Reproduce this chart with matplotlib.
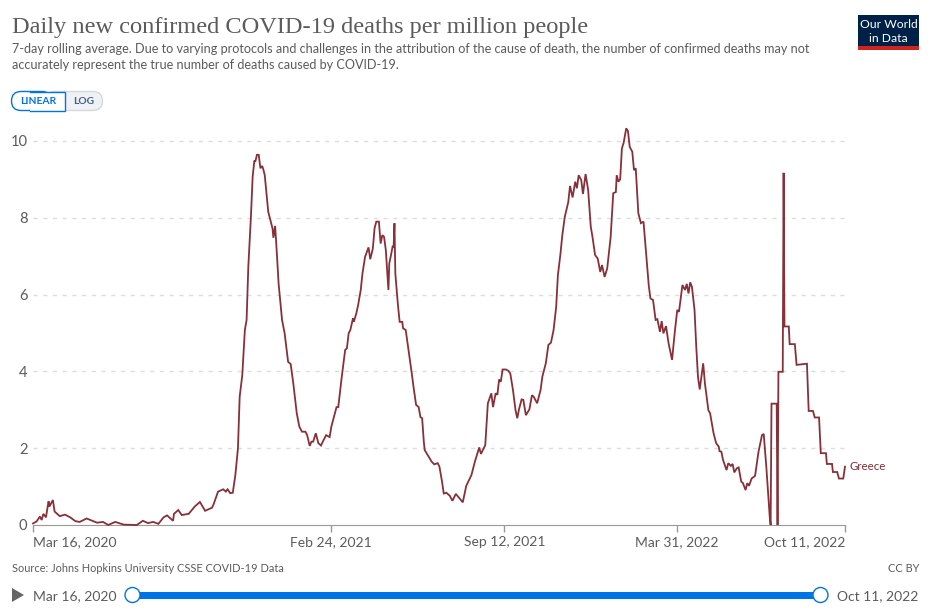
import matplotlib
matplotlib.use("Agg")
import pandas as pd
import matplotlib.pyplot as plt
from matplotlib.patches import Rectangle, FancyBboxPatch, Circle, Polygon

START_DATE = "2020-03-16"
END_DATE = "2022-10-11"
TICK_DATES = ["2020-03-16", "2021-02-24", "2021-09-12", "2022-03-31", "2022-10-11"]
TICK_LABELS = ["Mar 16, 2020", "Feb 24, 2021", "Sep 12, 2021", "Mar 31, 2022", "Oct 11, 2022"]
Y_TICKS = [0, 2, 4, 6, 8, 10]

# Greece: days since the start date and deaths per million
days_first_wave = [0, 4, 8, 10, 12, 15, 18, 19, 23, 25, 31, 37, 43, 49, 54, 62, 74, 81, 87, 95,
                   105, 120, 127, 133, 139, 145, 151, 155, 162, 163, 168, 172, 180, 187, 193,
                   199, 207, 209, 214, 220, 223, 225, 228, 231, 234, 237, 239, 242, 245, 247,
                   249, 252, 254, 256, 257, 259, 261, 263, 265, 266, 268, 272, 275, 277, 278,
                   280, 282, 284, 288, 291, 295, 298, 301, 305, 308, 311, 315, 317, 320, 322,
                   324, 327, 330, 333, 336, 339, 343, 345, 348, 351, 353, 357, 361, 363, 365,
                   367, 370, 371, 374, 376, 379, 381, 384, 388, 390, 393, 395, 397, 400, 402,
                   404, 406, 408, 411, 412, 414, 416, 417, 418, 419, 422, 424, 427, 428, 431,
                   434, 438, 440, 443, 446, 448, 450]
vals_first_wave = [0.04, 0.09, 0.22, 0.13, 0.29, 0.2, 0.62, 0.48, 0.65, 0.35, 0.23, 0.27, 0.2, 0.1,
                   0.08, 0.17, 0.06, 0.08, 0.0, 0.08, 0.01, 0.0, 0.11, 0.05, 0.08, 0.03, 0.2, 0.25,
                   0.11, 0.29, 0.39, 0.26, 0.29, 0.48, 0.6, 0.37, 0.45, 0.55, 0.87, 0.93, 0.87,
                   0.93, 0.83, 0.84, 1.3, 2.0, 3.34, 3.9, 5.08, 5.34, 6.73, 8.03, 9.07, 9.49, 9.46,
                   9.64, 9.64, 9.29, 9.35, 9.29, 9.11, 8.16, 7.9, 7.72, 7.48, 7.79, 7.07, 6.29,
                   5.34, 4.99, 4.25, 4.19, 3.69, 2.91, 2.56, 2.43, 2.43, 2.34, 2.06, 2.17, 2.17,
                   2.39, 2.13, 2.07, 2.21, 2.34, 2.29, 2.56, 2.82, 3.07, 3.07, 3.85, 4.56, 4.6,
                   4.99, 5.08, 5.38, 5.29, 5.52, 5.73, 6.12, 6.55, 6.98, 7.23, 6.92, 7.2, 7.73,
                   7.9, 7.9, 7.33, 7.55, 7.5, 7.16, 6.12, 6.81, 7.03, 7.27, 7.23, 7.86, 6.55, 5.73,
                   5.29, 5.29, 5.12, 5.08, 4.6, 3.95, 3.6, 3.13, 3.07, 2.81, 2.78]

days_second_wave = [452, 453, 457, 461, 464, 468, 470, 473, 475, 478, 482, 485, 489, 493, 497, 501,
                    507, 511, 516, 518, 523, 526, 528, 530, 532, 535, 537, 539, 541, 543, 547,
                    550, 552, 555, 558, 560, 562, 565, 567, 570, 574, 577, 579, 583, 587, 589,
                    593, 596, 599, 602, 605, 607, 610, 612, 615, 619, 621, 624, 627, 629, 631,
                    634, 636, 639, 642, 645, 647, 650, 653, 656, 658, 661, 664, 668, 671, 674,
                    675, 677, 679, 681, 683, 686, 688, 690, 693, 695, 697, 700, 703, 706, 710,
                    712, 714, 717, 720, 722, 725, 727, 729, 732, 735, 739, 742, 745, 747, 751,
                    754, 756, 758, 760, 762, 765, 767, 769, 771, 775, 777, 781, 783, 787, 790,
                    793, 794]
vals_second_wave = [2.15, 1.95, 1.8, 1.65, 1.58, 1.61, 1.52, 1.13, 0.82, 0.84, 0.76, 0.63, 0.81, 0.7,
                    0.59, 1.02, 1.3, 1.65, 2.02, 1.85, 2.08, 3.17, 3.3, 3.43, 3.07, 3.43, 3.39,
                    3.79, 3.73, 4.05, 4.05, 4.01, 3.94, 3.52, 2.99, 2.78, 3.01, 3.27, 3.26, 2.86,
                    3.01, 3.38, 3.34, 3.17, 3.52, 3.86, 4.21, 4.69, 4.75, 5.08, 5.68, 6.51, 7.07,
                    7.53, 8.03, 8.41, 8.83, 8.53, 8.94, 8.77, 9.11, 8.98, 8.62, 9.14, 8.72, 7.77,
                    7.5, 7.03, 6.94, 6.59, 6.77, 6.46, 6.68, 7.5, 8.64, 8.67, 9.11, 8.94, 9.0, 9.81,
                    9.95, 10.33, 10.26, 9.85, 9.72, 9.24, 9.29, 8.12, 7.86, 7.9, 6.81, 6.25, 5.9,
                    5.86, 5.34, 5.36, 5.03, 5.31, 4.99, 5.18, 4.73, 4.3, 4.99, 5.6, 5.55, 6.25,
                    6.12, 6.28, 6.03, 6.32, 6.2, 5.6, 4.64, 3.85, 3.53, 4.21, 3.69, 2.99, 2.91,
                    2.39, 2.13, 2.04, 1.92]

days_last_year = [796, 798, 802, 804, 807, 809, 811, 814, 816, 819, 821, 824, 826, 828, 831, 835,
                  839, 843, 845, 848, 852, 853, 854, 860, 861, 862, 867, 868, 869, 874, 875, 881,
                  883, 895, 897, 902, 904, 909, 911, 917, 918, 924, 925, 930, 932, 937, 939]
vals_last_year = [1.91, 1.69, 1.43, 1.61, 1.54, 1.59, 1.37, 1.48, 1.5, 1.13, 1.09, 0.91, 1.09, 1.02,
                  1.21, 1.28, 1.91, 2.34, 2.37, 1.52, 0.2, 0.0, 3.16, 3.16, 0.0, 3.99, 3.99, 9.17,
                  5.17, 5.17, 4.71, 4.71, 4.17, 4.2, 2.97, 2.97, 2.8, 2.8, 1.87, 1.87, 1.59, 1.59,
                  1.38, 1.38, 1.21, 1.21, 1.52]

TEXT_GREY = "#5b5b5b"
LINE_COLOR = "#883039"
BLUE = "#0073e6"

W, H = 930, 611
plt.rcParams["font.family"] = ["Lato", "DejaVu Sans"]

days = days_first_wave + days_second_wave + days_last_year
vals = vals_first_wave + vals_second_wave + vals_last_year
dates = pd.Timestamp(START_DATE) + pd.to_timedelta(days, unit="D")

fig = plt.figure(figsize=(W / 100, H / 100), dpi=100, facecolor="white")

# Main chart, placed in pixels
ax = fig.add_axes([33 / W, 1 - 525 / H, 812 / W, 398 / H])
ax.plot(dates, vals, color=LINE_COLOR, lw=1.3, solid_joinstyle="miter", clip_on=False, zorder=3)
ax.set_xlim(pd.Timestamp(START_DATE), pd.Timestamp(END_DATE))
ax.set_ylim(0, 398 / 38.4)

ax.set_yticks(Y_TICKS)
ax.set_yticklabels([str(t) for t in Y_TICKS], fontsize=10.6, color=TEXT_GREY)
ax.tick_params(axis="y", length=0, pad=4)
for t in Y_TICKS[1:]:
    ax.axhline(t, color="#dddddd", lw=1, dashes=(3, 4), zorder=1)

ax.set_xticks(pd.to_datetime(TICK_DATES))
ax.set_xticklabels(TICK_LABELS, fontsize=10, color=TEXT_GREY)
ax.tick_params(axis="x", length=5, width=1, color="#999999", pad=3)
labels = ax.get_xticklabels()
labels[0].set_ha("left")
labels[-1].set_ha("right")

for side in ["top", "left", "right"]:
    ax.spines[side].set_visible(False)
ax.spines["bottom"].set_color("#999999")
ax.patch.set_alpha(0)

ax.annotate("Greece", xy=(1, 1.52), xycoords=("axes fraction", "data"), xytext=(4, 0),
            textcoords="offset pixels", color="#7f2b36", fontsize=8.3, va="center", ha="left")

# Everything around the chart, in pixel coordinates
ov = fig.add_axes([0, 0, 1, 1], zorder=-1)
ov.set_xlim(0, W)
ov.set_ylim(H, 0)
ov.axis("off")

ov.text(12, 27, "Daily new confirmed COVID-19 deaths per million people", family="Liberation Serif",
        fontsize=17.6, color=TEXT_GREY, va="center", ha="left")
ov.text(12, 49, "7-day rolling average. Due to varying protocols and challenges in the attribution of the cause of death, the number of confirmed deaths may not",
        fontsize=9.06, color=TEXT_GREY, va="center", ha="left")
ov.text(12, 65, "accurately represent the true number of deaths caused by COVID-19.",
        fontsize=9.06, color=TEXT_GREY, va="center", ha="left")

# Logo
ov.add_patch(Rectangle((858, 15), 61, 35, fc="#002147", ec="none"))
ov.add_patch(Rectangle((858, 46), 61, 4, fc="#ce261e", ec="none"))
ov.text(888.5, 25, "Our World", color="white", fontsize=8.7, ha="center", va="center")
ov.text(888.5, 38, "in Data", color="white", fontsize=8.7, ha="center", va="center")

# Linear / log toggle
ov.add_patch(FancyBboxPatch((45, 91.5), 57.5, 19, boxstyle="round,pad=0,rounding_size=9.5",
                            fc="#eff1f4", ec="#d5d8dd", lw=1))
ov.add_patch(FancyBboxPatch((11.5, 91.5), 40, 19, boxstyle="round,pad=0,rounding_size=9.5",
                            fc="white", ec=BLUE, lw=1))
ov.add_patch(Rectangle((30, 91.5), 34.5, 19, fc="white", ec="none"))
ov.plot([30, 64.5, 64.5, 30], [91.5, 91.5, 110.5, 110.5], color=BLUE, lw=1, solid_joinstyle="miter")
ov.text(38, 101.5, "LINEAR", color=BLUE, fontsize=7.4, fontweight="bold", ha="center", va="center")
ov.text(83.5, 101.5, "LOG", color="#44608a", fontsize=7.4, fontweight="bold", ha="center", va="center")

# Footer
ov.text(12, 568, "Source: Johns Hopkins University CSSE COVID-19 Data", fontsize=7.9, color=TEXT_GREY,
        va="center", ha="left")
ov.text(919, 568, "CC BY", fontsize=7.9, color=TEXT_GREY, va="center", ha="right")

# Timeline
ov.add_patch(Polygon([(12, 588), (24, 595), (12, 602)], fc="#666666", ec="none"))
ov.text(33, 596, TICK_LABELS[0], fontsize=10, color=TEXT_GREY, va="center", ha="left")
ov.text(918, 596, TICK_LABELS[-1], fontsize=10, color=TEXT_GREY, va="center", ha="right")
ov.add_patch(Rectangle((132, 592), 688, 6.5, fc=BLUE, ec="none"))
for hx in [132.5, 820.5]:
    ov.add_patch(Circle((hx, 595), 7.5, fc="white", ec=BLUE, lw=1, zorder=3))

fig.savefig("out.png", dpi=100)
